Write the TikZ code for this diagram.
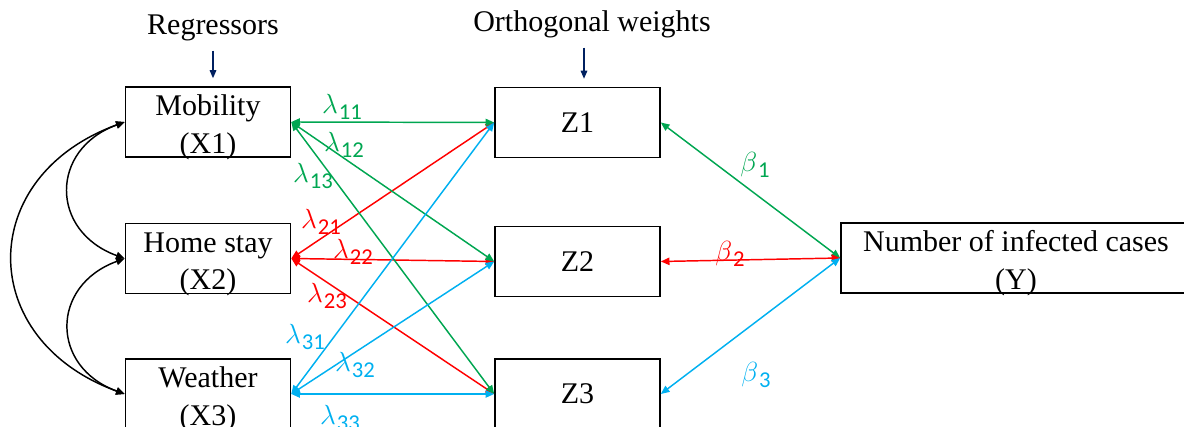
\documentclass[tikz,border=0pt]{standalone}
\usepackage{fontspec}
\setmainfont{Liberation Serif}
\newfontfamily\boxfont{Liberation Serif}
\newfontfamily\subfont{Carlito}
\usetikzlibrary{arrows.meta}
\definecolor{lgreen}{RGB}{0,166,81}
\definecolor{lred}{RGB}{255,0,0}
\definecolor{lcyan}{RGB}{0,176,240}
\definecolor{navy}{RGB}{0,32,96}
\newcommand{\boxtext}[2]{\rule{0pt}{19pt}#1\\\smash{#2}}
\newcommand{\coef}[2]{$#1$\kern0.8pt\raisebox{-5pt}{\subfont\fontsize{17}{17}\selectfont #2}}
\tikzset{
  var/.style={draw, line width=1.2pt, minimum width=123.75pt, minimum height=52.5pt,
    inner sep=0pt, align=center, font=\boxfont\fontsize{22.5}{28}\selectfont},
  coef/.style={font=\fontsize{21}{23}\selectfont, inner sep=0pt},
  title/.style={font=\boxfont\fontsize{22.5}{28}\selectfont, anchor=base},
}
\begin{document}
\begin{tikzpicture}[x=0.75pt, y=0.75pt, >={Triangle[length=6.5pt,width=5.5pt]}, line width=1.1pt]
  \useasboundingbox (0,0) rectangle (1184,427);
  % Titres
  \node[title] (reg) at (213,392) {Regressors};
  \node[title] (ow) at (592,395) {Orthogonal weights};
  % Regresseurs
  \node[var] (x1) at (208,305) {\boxtext{Mobility}{(X1)}};
  \node[var] (x2) at (208,168.5) {\boxtext{Home stay}{(X2)}};
  \node[var] (x3) at (208,33) {\boxtext{Weather}{(X3)}};
  % Poids orthogonaux
  \node[var] (z1) at (577.5,304.5) {Z1};
  \node[var] (z2) at (577.5,165.5) {Z2};
  \node[var] (z3) at (577.5,33) {Z3};
  % Variable expliquee
  \node[var, minimum width=262.5pt] (yc) at (1016,169) {\boxtext{Number of infected cases}{(Y)}};
  % Fleches des titres
  \draw[->, navy, line width=0.8pt, >={Triangle[length=6pt,width=5pt]}, shorten <=3pt, shorten >=6pt]
    (reg.south) -- (reg.south |- x1.north);
  \draw[->, navy, line width=0.8pt, >={Triangle[length=6pt,width=5pt]}, shorten <=3pt, shorten >=6pt]
    ([xshift=-6pt]ow.south) -- ([xshift=-6pt]ow.south |- z1.north);
  % Correlations entre regresseurs
  \draw[<->] (x1.west) to[out=200, in=160, looseness=1.5] (x2.west);
  \draw[<->] (x2.west) to[out=200, in=160, looseness=1.5] (x3.west);
  \draw[<->] (x1.west) to[out=200, in=160, looseness=1.5] (x3.west);
  % Poids lambda
  \draw[<->, lred] (x2.east) -- (z1.west);
  \draw[<->, lred] (x2.east) -- (z2.west);
  \draw[<->, lred] (x2.east) -- (z3.west);
  \draw[<->, lgreen] (x1.east) -- (z1.west);
  \draw[<->, lgreen] (x1.east) -- (z2.west);
  \draw[<->, lgreen] (x1.east) -- (z3.west);
  \draw[<->, lcyan] (x3.east) -- (z1.west);
  \draw[<->, lcyan] (x3.east) -- (z2.west);
  \draw[<->, lcyan] (x3.east) -- (z3.west);
  \node[coef, lgreen] (l11) at (342,320) {\coef{\lambda}{11}};
  \node[coef, lgreen] (l12) at (344,282) {\coef{\lambda}{12}};
  \node[coef, lgreen] (l13) at (313,251) {\coef{\lambda}{13}};
  \node[coef, lred] (l21) at (321,205) {\coef{\lambda}{21}};
  \node[coef, lred] (l22) at (353,175) {\coef{\lambda}{22}};
  \node[coef, lred] (l23) at (327,131) {\coef{\lambda}{23}};
  \node[coef, lcyan] (l31) at (305,90) {\coef{\lambda}{31}};
  \node[coef, lcyan] (l32) at (355,62) {\coef{\lambda}{32}};
  \node[coef, lcyan] (l33) at (340,9) {\coef{\lambda}{33}};
  % Coefficients beta
  \draw[<->, lgreen] (z1.east) -- (yc.west);
  \draw[<->, lred] (z2.east) -- (yc.west);
  \draw[<->, lcyan] (z3.east) -- (yc.west);
  \node[coef, lgreen] (b1) at (755,262) {\coef{\beta}{1}};
  \node[coef, lred] (b2) at (730,173) {\coef{\beta}{2}};
  \node[coef, lcyan] (b3) at (756,52) {\coef{\beta}{3}};
\end{tikzpicture}
\end{document}
